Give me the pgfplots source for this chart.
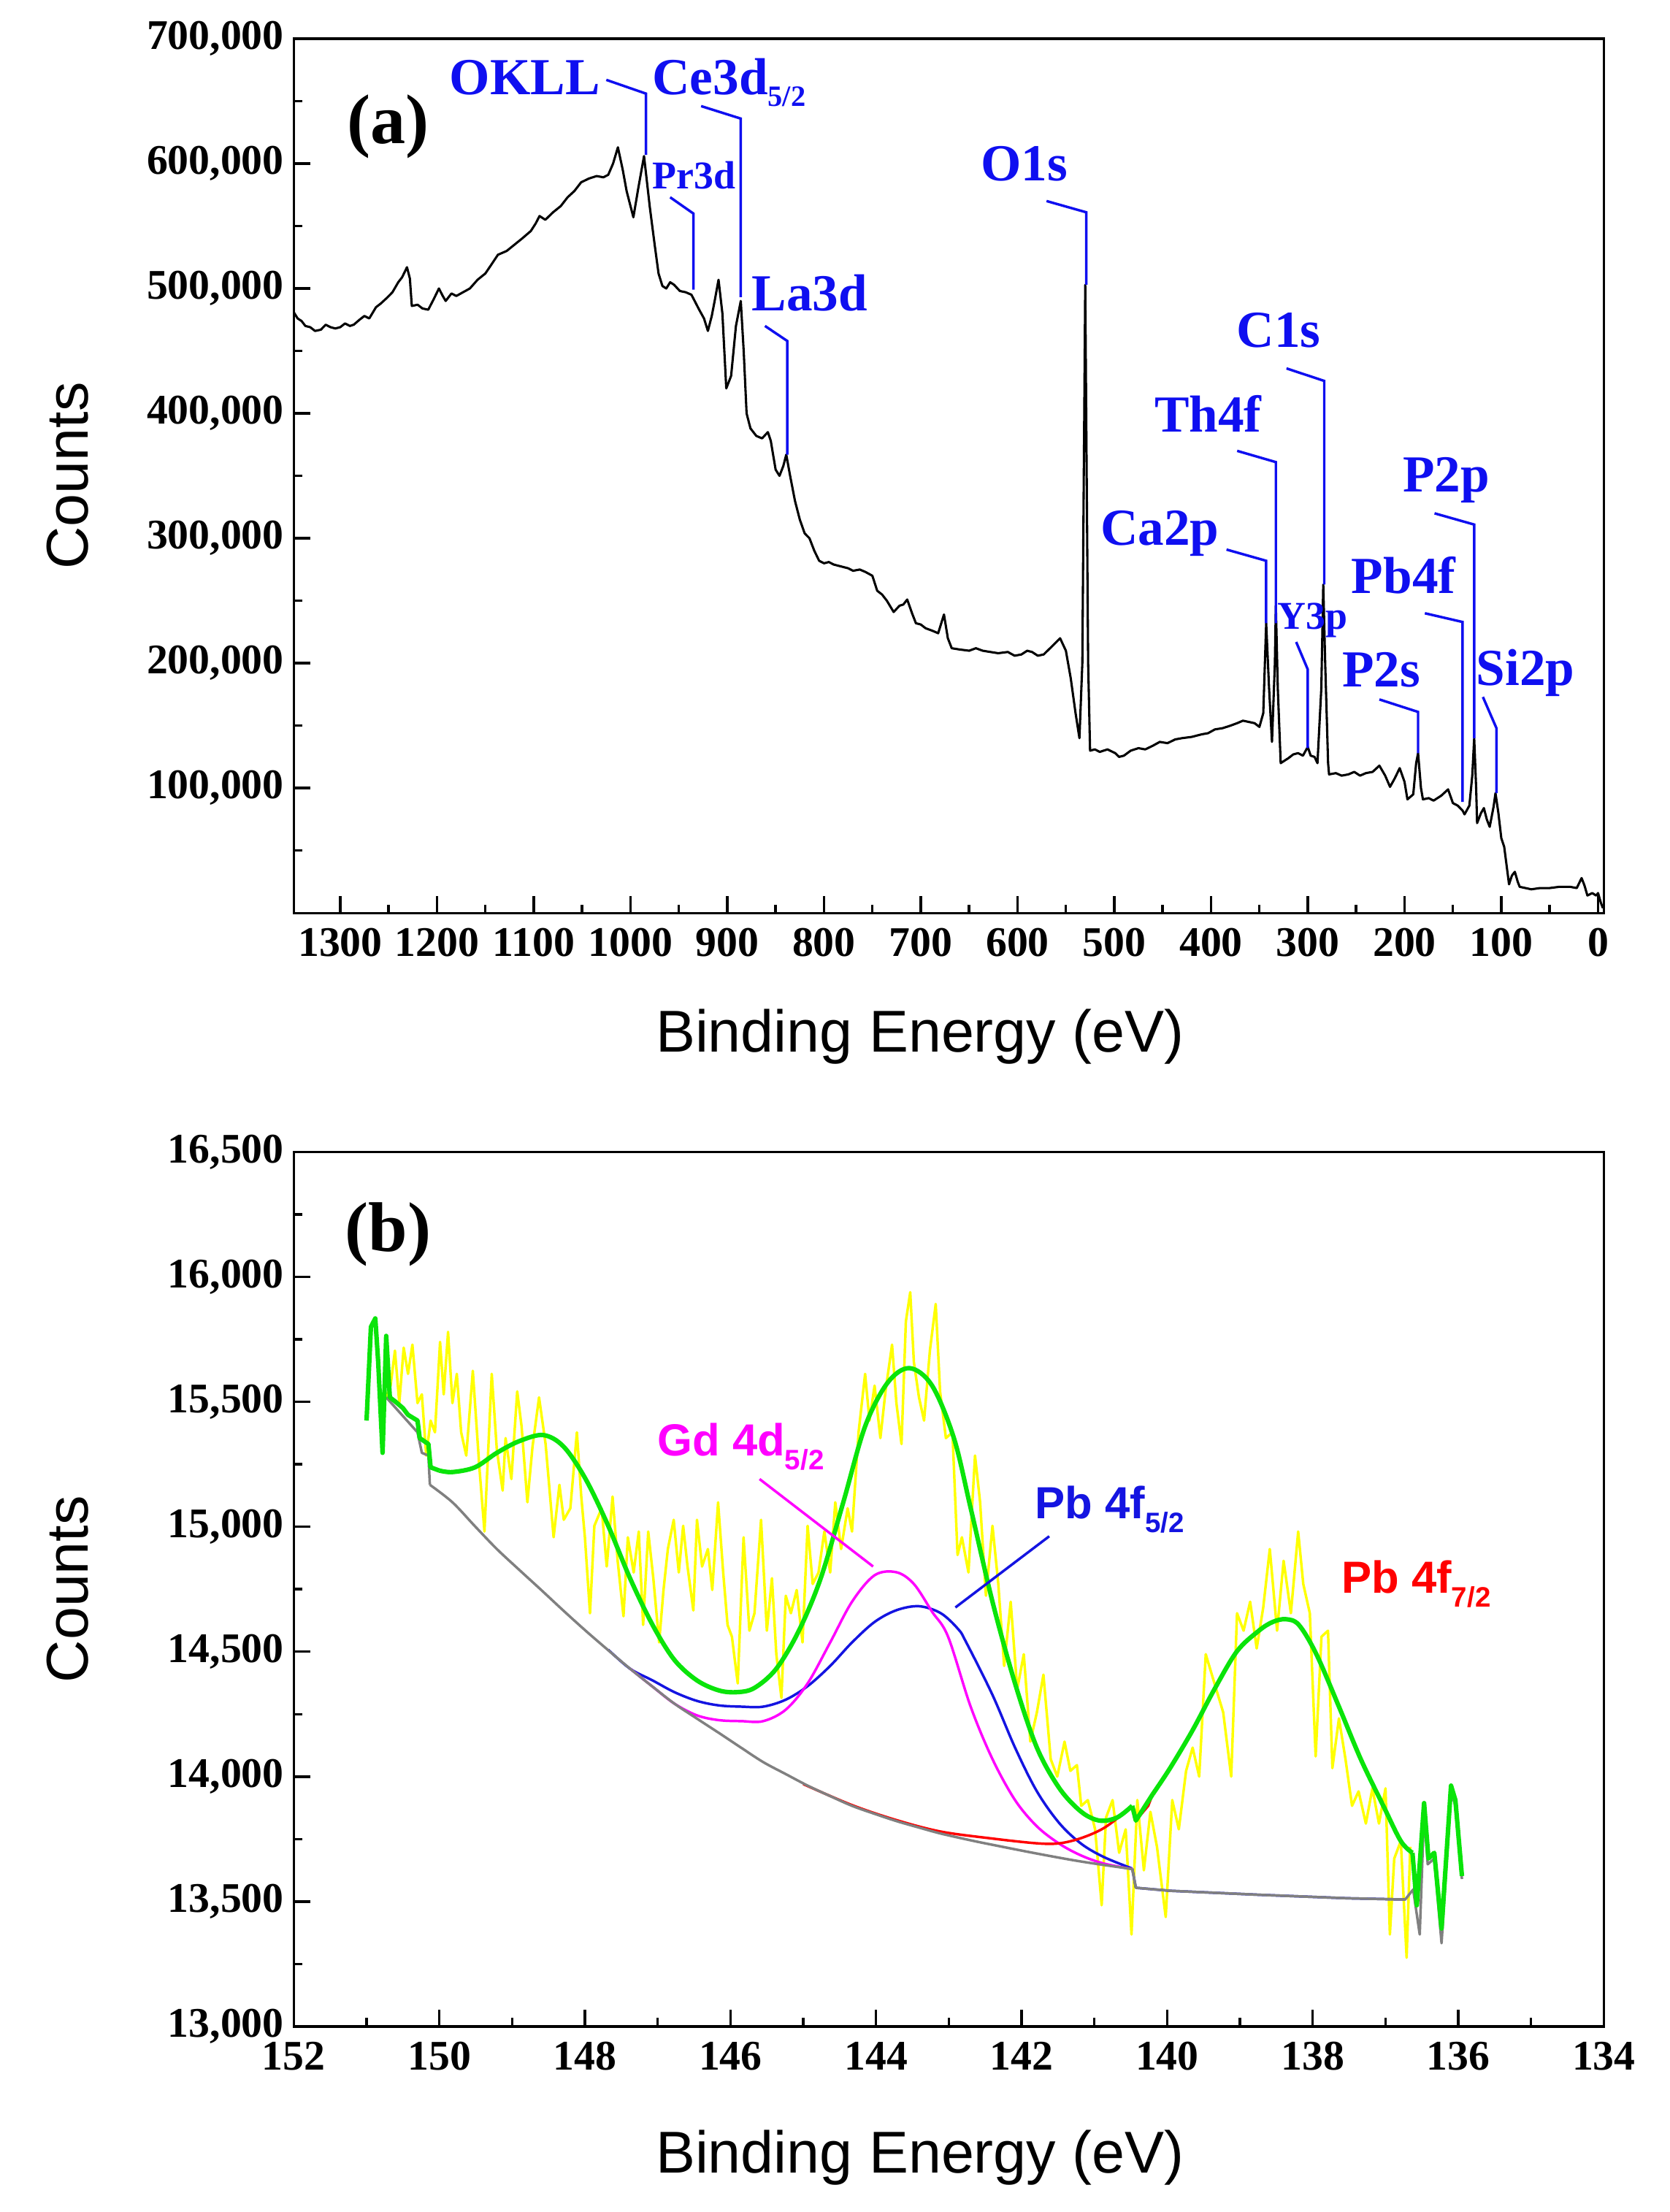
\documentclass[border=0pt]{standalone}
\usepackage{fontspec}
\setmainfont{Liberation Serif}
\newfontfamily\arial{Liberation Sans}
\usepackage{pgfplots}
\pgfplotsset{compat=1.18}
\definecolor{annblue}{RGB}{15,15,240}
\definecolor{fitgreen}{RGB}{10,228,10}
\definecolor{rawyellow}{RGB}{255,255,0}
\definecolor{compmag}{RGB}{255,0,255}
\definecolor{compblue}{RGB}{20,20,225}
\definecolor{compred}{RGB}{255,0,0}
\definecolor{bggray}{RGB}{128,128,128}
\newcommand\lab[1]{\fontsize{#1}{#1}\selectfont}
\begin{document}
\begin{tikzpicture}
\path[use as bounding box] (0pt,0pt) rectangle (594pt,786.75pt);
\pgfplotsset{
  common/.style={
    scale only axis, width=466pt, height=311pt,
    axis line style={line width=0.9pt},
    every tick/.style={line width=0.9pt, black},
    major tick length=6pt, minor tick length=3pt,
    tick align=inside,
    xtick pos=bottom, ytick pos=left,
    x dir=reverse,
    tick label style={font=\lab{15}\bfseries},
    /pgf/number format/assume math mode=true,
    /pgf/number format/fixed,
    xticklabel style={yshift=-2pt,/pgf/number format/fixed,/pgf/number format/1000 sep={}},
    yticklabel style={/pgf/number format/fixed,/pgf/number format/1000 sep={,}},
    scaled y ticks=false, scaled x ticks=false,
    label style={font=\lab{21}\arial},
    ylabel style={at={(axis description cs:-0.1727,0.5)}, anchor=center},
    clip=true,
  },
  sm/.style={smooth, tension=0.55},
  grn/.style={fitgreen, line width=1.6pt, line join=round},
  cmp/.style={line width=0.9pt, line join=round},
}
% ---------------- panel (a) ----------------
\begin{axis}[common, at={(104.5pt,462pt)}, anchor=south west,
  xmin=-6, xmax=1348, ymin=0, ymax=700000,
  xtick={0,100,...,1300}, minor xtick={50,150,...,1250},
  ytick={100000,200000,...,700000}, minor ytick={50000,150000,...,650000},
  xlabel={Binding Energy (eV)}, ylabel={Counts},
  xlabel style={at={(axis description cs:0.478,-0.141)}, anchor=center},
]
\addplot[black, line width=0.8pt, line join=round] coordinates {
(1348,481000)(1344,476000)(1340,474000)(1336,470000)(1331,469000)(1326,466000)(1320,467000)(1315,471000)
(1310,469000)(1305,468000)(1300,469000)(1295,472000)(1290,470000)(1286,471000)(1280,475000)(1275,478000)
(1270,476000)(1263,485000)(1258,488000)(1251,493000)(1246,497000)(1240,505000)(1236,509000)(1231,517000)
(1228,508000)(1226,486000)(1220,487000)(1215,484000)(1209,483000)(1203,492000)(1198,500000)(1194,494000)
(1191,490000)(1185,496000)(1180,494000)(1173,497000)(1166,500000)(1158,507000)(1150,512000)(1143,520000)
(1137,527000)(1128,530000)(1120,535000)(1112,540000)(1103,546000)(1098,552000)(1094,558000)(1088,555000)
(1080,561000)(1072,566000)(1065,573000)(1058,578000)(1051,585000)(1043,588000)(1035,590000)(1028,589000)
(1023,591000)(1018,600000)(1013,613000)(1008,595000)(1004,578000)(997,557000)(992,580000)(986,606000)
(980,565000)(975,535000)(971,512000)(967,502000)(963,500000)(959,505000)(955,503000)(949,498000)
(943,497000)(937,495000)(929,483000)(924,476000)(920,466000)(916,478000)(913,490000)(909,507000)
(905,480000)(901,420000)(896,430000)(891,470000)(886,490000)(883,450000)(880,400000)(876,388000)
(870,382000)(864,380000)(858,385000)(855,378000)(850,355000)(846,350000)(842,358000)(839,367000)
(835,350000)(830,330000)(825,315000)(820,304000)(815,300000)(810,290000)(805,282000)(800,280000)
(795,281000)(790,279000)(785,278000)(780,277000)(775,276000)(770,274000)(763,275000)(757,273000)
(750,270000)(745,258000)(740,255000)(735,250000)(728,241000)(722,246000)(718,247000)(714,251000)
(709,240000)(705,232000)(700,231000)(695,228000)(688,226000)(682,224000)(676,239000)(672,220000)
(668,212000)(660,211000)(650,210000)(643,212000)(636,210000)(628,209000)(620,208000)(610,209000)
(603,206000)(596,207000)(590,210000)(585,209000)(579,206000)(573,207000)(565,213000)(556,220000)
(550,210000)(545,188000)(540,160000)(536,140000)(533,200000)(531,400000)(530,503000)(529,400000)
(527,200000)(525,130000)(520,131000)(515,129000)(507,131000)(499,128000)(495,125000)(490,126000)
(483,130000)(475,132000)(468,131000)(460,134000)(453,137000)(445,136000)(437,139000)(430,140000)
(420,141000)(410,143000)(403,144000)(396,147000)(388,148000)(380,150000)(373,152000)(367,154000)
(361,153000)(355,152000)(350,149000)(346,160000)(343,232000)(340,180000)(337,137000)(334,200000)
(333,246000)(331,180000)(328,120000)(324,122000)(320,124000)(315,127000)(310,128000)(305,126000)
(300,133000)(297,126000)(293,125000)(290,120000)(286,180000)(284,263000)(282,200000)(279,120000)
(278,111000)(271,112000)(265,110000)(258,111000)(252,113000)(246,110000)(240,112000)(233,113000)
(226,118000)(220,110000)(215,101000)(210,108000)(205,116000)(200,105000)(197,91000)(194,93000)
(191,95000)(188,120000)(186,128000)(183,100000)(181,91000)(175,92000)(170,90000)(162,94000)
(155,99000)(150,88000)(145,86000)(140,82000)(138,79000)(133,86000)(130,110000)(128,140000)
(126,100000)(125,72000)(121,80000)(118,84000)(115,75000)(112,69000)(108,85000)(106,96000)
(103,80000)(100,60000)(97,53000)(94,35000)(92,23000)(89,30000)(86,33000)(83,25000)(81,21000)
(75,20000)(69,19000)(60,20000)(50,20000)(40,21000)(29,21000)(22,20000)(17,28000)(14,22000)
(11,14000)(6,16000)(2,14000)(0,16000)(-3,8000)(-5,4000)
};
\node[anchor=base west, font=\lab{25}\bfseries] at (axis cs:1303,616000) {(a)};
\begin{scope}[annblue, line width=0.9pt]
\draw (axis cs:1025,667000) -- (axis cs:984,656000) -- (axis cs:984,607000);
\draw (axis cs:927,646000) -- (axis cs:886,636000) -- (axis cs:886,493000);
\draw (axis cs:959,573000) -- (axis cs:935,560000) -- (axis cs:935,499000);
\draw (axis cs:861,470000) -- (axis cs:838,458000) -- (axis cs:838,367000);
\draw (axis cs:570,570000) -- (axis cs:529,561000) -- (axis cs:529,503000);
\draw (axis cs:322,436000) -- (axis cs:283,426000) -- (axis cs:283,263000);
\draw (axis cs:373,370000) -- (axis cs:333,361000) -- (axis cs:333,232000);
\draw (axis cs:384,291000) -- (axis cs:343,282000) -- (axis cs:343,232000);
\draw (axis cs:312,217000) -- (axis cs:300,195000) -- (axis cs:300,132000);
\draw (axis cs:169,320000) -- (axis cs:128,311000) -- (axis cs:128,140000);
\draw (axis cs:179,240000) -- (axis cs:140,233000) -- (axis cs:140,89000);
\draw (axis cs:226,171000) -- (axis cs:186,161000) -- (axis cs:186,128000);
\draw (axis cs:119,173000) -- (axis cs:105,148000) -- (axis cs:105,96000);
\end{scope}
\begin{scope}[every node/.style={annblue, font=\lab{18.5}\bfseries, inner sep=0pt}]
\node[anchor=base east] at (axis cs:1031,655000) {OKLL};
\node[anchor=base west] at (axis cs:978,655000) {Ce3d\raisebox{-4pt}{\lab{10.5}5/2}};
\node[anchor=base, font=\lab{14}\bfseries] at (axis cs:934,580000) {Pr3d};
\node[anchor=base west] at (axis cs:875,482000) {La3d};
\node[anchor=base] at (axis cs:593,586000) {O1s};
\node[anchor=base] at (axis cs:330,453000) {C1s};
\node[anchor=base] at (axis cs:403,385000) {Th4f};
\node[anchor=base] at (axis cs:453,294500) {Ca2p};
\node[anchor=base, font=\lab{14}\bfseries] at (axis cs:295,227000) {Y3p};
\node[anchor=base] at (axis cs:157,337000) {P2p};
\node[anchor=base] at (axis cs:201,256000) {Pb4f};
\node[anchor=base] at (axis cs:224,181000) {P2s};
\node[anchor=base] at (axis cs:75,182000) {Si2p};
\end{scope}
\end{axis}
% ---------------- panel (b) ----------------
\begin{axis}[common, at={(104.5pt,66pt)}, anchor=south west,
  xmin=134, xmax=152, ymin=13000, ymax=16500,
  xtick={134,136,...,152}, minor xtick={135,137,...,151},
  ytick={13000,13500,...,16500}, minor ytick={13250,13750,...,16250},
  xlabel={Binding Energy (eV)}, ylabel={Counts},
  xlabel style={at={(axis description cs:0.478,-0.150)}, anchor=center},
]
\addplot[rawyellow, line width=0.9pt, line join=round] coordinates {
(150.73,15520)(150.67,15565)(150.61,15705)(150.55,15495)(150.49,15717)(150.43,15612)(150.37,15729)(150.30,15495)
(150.24,15530)(150.18,15285)(150.12,15425)(150.06,15378)(149.99,15740)(149.94,15530)(149.88,15780)(149.82,15495)
(149.76,15612)(149.70,15378)(149.63,15285)(149.54,15624)(149.45,15238)(149.38,14981)(149.28,15612)(149.21,15308)
(149.13,15145)(149.09,15355)(149.01,15191)(148.93,15542)(148.87,15402)(148.79,15098)(148.72,15320)(148.63,15518)
(148.54,15331)(148.43,14958)(148.35,15168)(148.29,15028)(148.20,15074)(148.11,15378)(148.05,15121)(148.00,14958)
(147.93,14654)(147.87,15004)(147.77,15074)(147.70,14841)(147.62,15121)(147.55,14864)(147.47,14642)(147.41,14958)
(147.33,14817)(147.26,14981)(147.20,14607)(147.13,14981)(147.06,14794)(146.98,14537)(146.92,14747)(146.86,14911)
(146.78,15028)(146.71,14817)(146.65,15004)(146.59,14841)(146.51,14665)(146.46,15028)(146.39,14841)(146.31,14911)
(146.25,14747)(146.17,15098)(146.10,14817)(146.04,14607)(145.98,14560)(145.90,14373)(145.82,14958)(145.74,14584)
(145.67,14654)(145.58,15028)(145.50,14584)(145.43,14794)(145.37,14490)(145.30,14315)(145.24,14724)(145.17,14654)
(145.09,14747)(145.01,14537)(144.94,15004)(144.87,14771)(144.79,14817)(144.71,14981)(144.63,14817)(144.56,15098)
(144.48,14911)(144.39,15074)(144.33,14981)(144.24,15378)(144.15,15612)(144.09,15425)(144.02,15565)(143.94,15355)
(143.87,15542)(143.78,15729)(143.72,15495)(143.65,15331)(143.59,15822)(143.53,15939)(143.48,15659)(143.41,15518)
(143.34,15425)(143.26,15705)(143.18,15892)(143.12,15542)(143.04,15355)(142.95,15378)(142.88,14887)(142.82,14958)
(142.73,14817)(142.64,15285)(142.57,15098)(142.49,14724)(142.40,15004)(142.32,14771)(142.24,14443)(142.15,14700)
(142.06,14350)(141.97,14490)(141.88,14140)(141.79,14257)(141.70,14408)(141.60,14070)(141.51,14000)(141.41,14140)
(141.33,14023)(141.24,14046)(141.18,13883)(141.09,13906)(140.99,13789)(140.90,13485)(140.84,13836)(140.75,13906)
(140.66,13695)(140.57,13789)(140.49,13368)(140.41,13906)(140.32,13625)(140.23,13859)(140.14,13719)(140.02,13438)
(139.93,13906)(139.84,13789)(139.74,14023)(139.65,14116)(139.56,14000)(139.47,14490)(139.35,14373)(139.23,14257)
(139.12,14000)(139.04,14654)(138.95,14584)(138.86,14700)(138.77,14513)(138.68,14677)(138.59,14911)(138.49,14584)
(138.40,14864)(138.30,14654)(138.20,14981)(138.13,14771)(138.04,14654)(137.96,14081)(137.88,14560)(137.79,14584)
(137.73,14034)(137.64,14233)(137.55,14070)(137.46,13883)(137.37,13941)(137.27,13812)(137.18,13953)(137.09,13812)
(137.00,13953)(136.94,13368)(136.88,13672)(136.79,13742)(136.71,13275)(136.66,13719)
};
% blue component + background
\addplot[compblue, cmp, sm] coordinates {
(147.68,14508)(147.38,14432)(147.07,14385)(146.77,14338)(146.46,14303)(146.16,14285)(145.85,14280)(145.55,14280)
(145.24,14308)(144.94,14362)(144.63,14443)(144.33,14537)(144.02,14619)(143.72,14666)(143.41,14682)(143.11,14654)
(142.87,14590)(142.76,14537)(142.40,14327)(142.09,14116)(141.79,13941)(141.48,13813)(141.18,13731)(140.87,13678)
(140.48,13632)
};
\addplot[compblue, cmp] coordinates {
(140.48,13632)(140.43,13555)(139.96,13543)(138.74,13527)(137.52,13513)(136.73,13508)
};
% magenta component + background
\addplot[compmag, cmp, sm] coordinates {
(147.38,14432)(147.07,14360)(146.77,14292)(146.46,14245)(146.16,14226)(145.85,14222)(145.55,14222)(145.24,14268)
(144.94,14373)(144.63,14537)(144.33,14700)(144.02,14806)(143.72,14818)(143.48,14771)(143.23,14660)(143.01,14560)
(142.70,14280)(142.40,14070)(142.09,13906)(141.79,13801)(141.48,13731)(141.18,13684)(140.87,13652)(140.48,13630)
};
% red component + background
\addplot[compred, cmp, sm] coordinates {
(145.00,13970)(144.33,13886)(143.72,13826)(143.11,13780)(142.40,13752)(141.79,13733)(141.48,13733)(141.18,13754)
(140.87,13794)(140.57,13859)(140.48,13878)
};
\addplot[compred, cmp] coordinates {(140.48,13878)(140.43,13824)(140.26,13883)(140.20,13929)};
\addplot[compred, cmp, sm] coordinates {
(140.20,13929)(139.96,14034)(139.65,14186)(139.35,14350)(139.04,14502)(138.74,14584)(138.55,14619)
(138.37,14630)(138.19,14607)(137.95,14490)(137.64,14280)(137.34,14070)(137.03,13883)(136.79,13742)(136.63,13695)
};
% background
\addplot[bggray, cmp] coordinates {
(150.73,15518)(150.30,15378)(150.24,15296)(150.15,15285)(150.13,15168)
};
\addplot[bggray, cmp, sm] coordinates {
(150.13,15168)(149.82,15098)(149.51,15002)(149.21,14911)
(148.90,14827)(148.60,14747)(148.29,14663)(147.99,14584)(147.68,14506)(147.38,14432)(147.07,14360)(146.77,14292)
(146.46,14232)(146.16,14175)(145.85,14115)(145.55,14058)(145.24,14010)(144.94,13964)(144.63,13922)(144.33,13883)
(144.02,13851)(143.72,13822)(143.41,13796)(143.11,13772)(142.70,13745)(142.40,13727)(141.79,13692)(141.18,13660)
(140.48,13630)
};
\addplot[bggray, cmp] coordinates {
(140.48,13630)(140.43,13555)(139.96,13543)(138.74,13527)(137.52,13513)(136.73,13508)(136.62,13548)(136.53,13368)
(136.47,13859)(136.42,13649)(136.33,13672)(136.23,13333)(136.10,13941)(136.04,13883)(135.95,13590)
};
% envelope
\addplot[grn] coordinates {
(151.00,15425)(150.94,15800)(150.88,15834)(150.84,15659)(150.78,15296)(150.73,15764)(150.68,15518)(150.60,15500)
(150.50,15475)(150.43,15448)(150.30,15425)(150.27,15355)(150.15,15331)(150.12,15238)(150.00,15225)
};
\addplot[grn, sm] coordinates {
(150.00,15225)(149.82,15219)
(149.51,15238)(149.21,15296)(148.90,15343)(148.57,15367)(148.29,15320)(147.99,15191)(147.68,15004)(147.38,14794)
(147.07,14607)(146.77,14467)(146.46,14385)(146.16,14345)(145.91,14338)(145.67,14355)(145.37,14432)(145.06,14584)
(144.76,14794)(144.45,15098)(144.15,15402)(143.84,15577)(143.54,15635)(143.23,15565)(142.93,15355)(142.70,15075)
(142.40,14700)(142.09,14373)(141.79,14116)(141.48,13953)(141.18,13859)(140.93,13824)(140.69,13836)(140.48,13883)
};
\addplot[grn] coordinates {(140.48,13883)(140.43,13824)(140.20,13929)};
\addplot[grn, sm] coordinates {
(140.20,13929)(139.96,14034)(139.65,14186)(139.35,14350)(139.04,14502)(138.74,14584)(138.55,14619)
(138.37,14630)(138.19,14607)(137.95,14490)(137.64,14280)(137.34,14070)(137.03,13883)(136.79,13742)(136.63,13695)
};
\addplot[grn] coordinates {
(136.63,13695)(136.57,13485)(136.47,13894)(136.41,13672)(136.33,13695)(136.23,13392)(136.10,13964)(136.04,13906)(135.95,13602)
};
\node[anchor=base west, font=\lab{25}\bfseries] at (axis cs:151.43,16103) {(b)};
\draw[compmag, line width=0.9pt] (axis cs:145.60,15191) -- (axis cs:144.04,14841);
\draw[compblue, line width=0.9pt] (axis cs:141.62,14962) -- (axis cs:142.91,14677);
\begin{scope}[every node/.style={font=\lab{16}\arial\bfseries, inner sep=0pt, anchor=base west}]
\node[compmag] at (axis cs:147.01,15285) {Gd 4d\raisebox{-5pt}{\lab{10}5/2}};
\node[compblue] at (axis cs:141.82,15032) {Pb 4f\raisebox{-5pt}{\lab{10}5/2}};
\node[compred] at (axis cs:137.61,14736) {Pb 4f\raisebox{-5pt}{\lab{10}7/2}};
\end{scope}
\end{axis}
\end{tikzpicture}
\end{document}
